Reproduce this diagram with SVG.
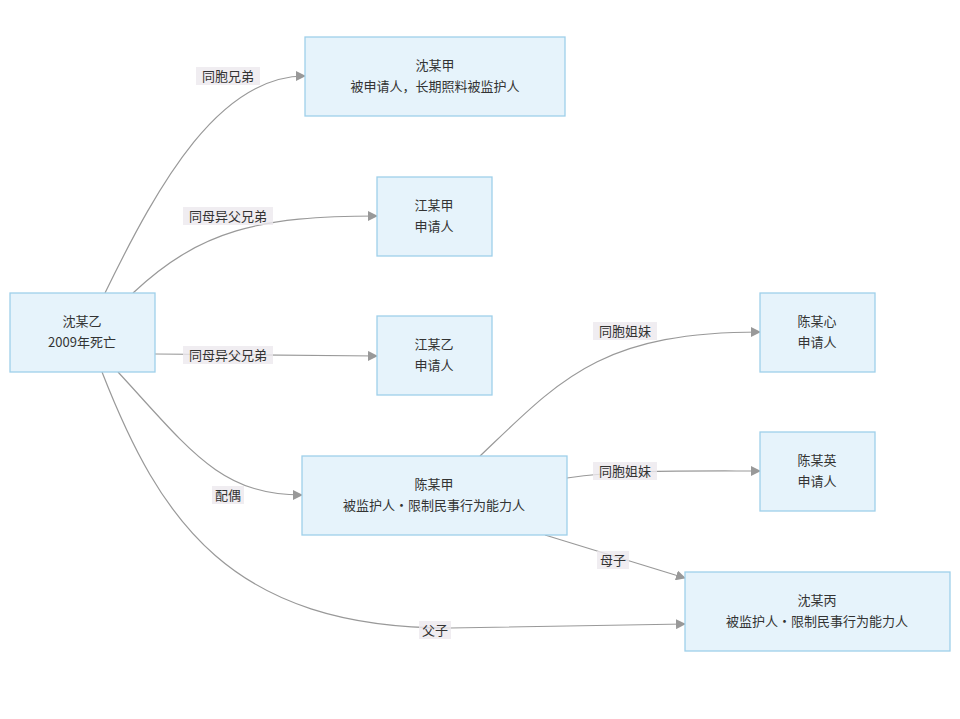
<svg xmlns="http://www.w3.org/2000/svg" width="960" height="719" viewBox="0 0 960 719">
<style>
.n rect{fill:#e6f3fb;stroke:#9fd0ea;stroke-width:1.3}
text{font-family:"Noto Sans CJK SC","Liberation Sans",sans-serif;font-size:13px;fill:#333;text-anchor:middle}
.e path{fill:none;stroke:#999;stroke-width:1.2;marker-end:url(#a)}
.l rect{fill:#ece9ee;opacity:0.8}
</style>
<defs><marker id="a" viewBox="0 0 10 10" refX="9" refY="5" markerWidth="10" markerHeight="10" markerUnits="userSpaceOnUse" orient="auto"><path d="M0,0L10,5L0,10z" fill="#999"/></marker></defs>
<rect width="960" height="719" fill="#fff"/>
<g class="e">
<path d="M105,293 C160,180 220,76 305,76"/>
<path d="M133,293 C200,230 260,216 377,216"/>
<path d="M155,354 L377,356"/>
<path d="M118,372 C190,450 220,495 302,495"/>
<path d="M102,372 C160,520 230,628 450,628 L685,624"/>
<path d="M480,456 C560,380 600,332 760,332"/>
<path d="M567,478 C620,470 680,471 760,471"/>
<path d="M545,535 L685,578"/>
</g>
<g class="l">
<rect x="196" y="67" width="64" height="18"/><text x="228" y="81">同胞兄弟</text>
<rect x="183" y="207" width="90" height="18"/><text x="228" y="221">同母异父兄弟</text>
<rect x="183" y="346" width="90" height="18"/><text x="228" y="360">同母异父兄弟</text>
<rect x="212" y="486" width="32" height="18"/><text x="228" y="500">配偶</text>
<rect x="419" y="621" width="32" height="18"/><text x="435" y="635">父子</text>
<rect x="593" y="322" width="64" height="18"/><text x="625" y="336">同胞姐妹</text>
<rect x="593" y="462" width="64" height="18"/><text x="625" y="476">同胞姐妹</text>
<rect x="597" y="551" width="32" height="18"/><text x="613" y="565">母子</text>
</g>
<g id="n1" class="n"><rect x="10" y="293" width="145" height="79"/><text x="82" y="326">沈某乙</text><text x="82" y="347">2009年死亡</text></g>
<g id="n2" class="n"><rect x="305" y="37" width="260" height="79"/><text x="435" y="70">沈某甲</text><text x="435" y="91">被申请人，长期照料被监护人</text></g>
<g id="n3" class="n"><rect x="377" y="177" width="115" height="79"/><text x="434" y="210">江某甲</text><text x="434" y="231">申请人</text></g>
<g id="n4" class="n"><rect x="377" y="316" width="115" height="79"/><text x="434" y="349">江某乙</text><text x="434" y="370">申请人</text></g>
<g id="n5" class="n"><rect x="302" y="456" width="265" height="79"/><text x="434" y="489">陈某甲</text><text x="434" y="510">被监护人·限制民事行为能力人</text></g>
<g id="n6" class="n"><rect x="760" y="293" width="115" height="79"/><text x="817" y="326">陈某心</text><text x="817" y="347">申请人</text></g>
<g id="n7" class="n"><rect x="760" y="432" width="115" height="79"/><text x="817" y="465">陈某英</text><text x="817" y="486">申请人</text></g>
<g id="n8" class="n"><rect x="685" y="572" width="265" height="79"/><text x="817" y="605">沈某丙</text><text x="817" y="626">被监护人·限制民事行为能力人</text></g>
</svg>
